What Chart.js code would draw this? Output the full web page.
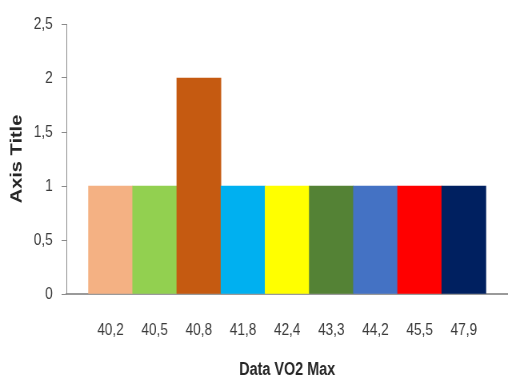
<!DOCTYPE html>
<html>
<head>
<meta charset="utf-8">
<script src="https://cdn.jsdelivr.net/npm/chart.js@4/dist/chart.umd.min.js"></script>
<style>
  html, body { margin: 0; padding: 0; background: #fff; overflow: hidden; }
  /* the chart is laid out wide and compressed horizontally for a condensed look */
  #wrap { width: 635px; height: 378px; transform: scaleX(0.8); transform-origin: 0 0; }
</style>
</head>
<body>
<div id="wrap"><canvas id="c"></canvas></div>
<script>
// VO2 max readings (categories) and how often each occurs
const categories = ['40,2', '40,5', '40,8', '41,8', '42,4', '43,3', '44,2', '45,5', '47,9'];
const counts = [1, 1, 2, 1, 1, 1, 1, 1, 1];
const barColors = ['#F4B183', '#92D050', '#C55A11', '#00B0F0', '#FFFF00', '#548235', '#4472C4', '#FF0000', '#002060'];
const yTickLabels = ['0', '0,5', '1', '1,5', '2', '2,5'];

const sans = "'Liberation Sans', Arial, sans-serif";

const points = categories.map((c, i) => ({ x: i, y: counts[i] }));

new Chart(document.getElementById('c'), {
  type: 'bar',
  data: {
    datasets: [{
      data: points,
      backgroundColor: barColors,
      borderWidth: 0,
      barPercentage: 1,
      categoryPercentage: 1
    }]
  },
  options: {
    responsive: true,
    maintainAspectRatio: false,
    animation: false,
    layout: { padding: { top: 24, left: 0, right: 0, bottom: 0 } },
    plugins: { legend: { display: false }, tooltip: { enabled: false } },
    scales: {
      x: {
        type: 'linear',
        offset: false,
        min: -1,
        max: categories.length,
        grid: { display: false, offset: false, drawTicks: false },
        border: { display: true, color: '#9a9a9a', width: 2 },
        ticks: {
          stepSize: 1,
          autoSkip: false,
          maxRotation: 0,
          padding: 26,
          color: '#3a3a3a',
          font: { family: sans, size: 17 },
          callback: v => (Number.isInteger(v) && categories[v] !== undefined) ? categories[v] : ''
        },
        title: {
          display: true,
          text: 'Data VO2 Max',
          color: '#262626',
          font: { family: sans, size: 18, weight: 'bold' },
          padding: { top: 0, bottom: -3 }
        },
        afterFit: s => { s.height = 84; s.paddingLeft = 0; s.paddingRight = 0; }
      },
      y: {
        min: 0,
        max: 2.5,
        grid: { display: true, drawOnChartArea: false, drawTicks: true, tickLength: 6, color: '#8a8a8a' },
        border: { display: true, color: '#8a8a8a', width: 1 },
        ticks: {
          stepSize: 0.5,
          padding: 11,
          color: '#3a3a3a',
          font: { family: sans, size: 17 },
          callback: v => yTickLabels[Math.round(v / 0.5)]
        },
        title: {
          display: true,
          text: 'Axis Title',
          color: '#262626',
          font: { family: sans, size: 20, weight: 'bold' },
          padding: { top: 9, bottom: 0 }
        },
        afterFit: s => { s.width = 83; }
      }
    }
  }
});
</script>
</body>
</html>
